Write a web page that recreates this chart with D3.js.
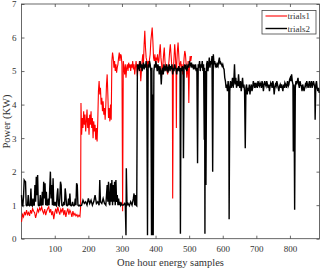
<!DOCTYPE html>
<html><head><meta charset="utf-8">
<script src="https://cdn.jsdelivr.net/npm/d3@7"></script>
<style>body{margin:0;background:#fff}svg{display:block}text{font-family:"Liberation Serif","Times New Roman",serif;fill:#333}</style>
</head><body><svg id="c" width="325" height="271"></svg>
<script>
const xTicks=[100,200,300,400,500,600,700,800];
const yTicks=[0,1,2,3,4,5,6,7];
const seriesNames=["trials1","trials2"];
const trials1Samples=[1,4,7,10,13,16,19,22,25,28,31,34,37,40,43,46,49,52,55,58,61,64,67,70,73,76,79,82,85,88,91,94,97,100,103,106,109,112,115,118,121,124,127,130,133,136,139,142,145,148,151,154,157,160,163,166,169,172,175,177,178,180,182,184,186,188,190,192,194,196,198,200,202,204,206,208,210,212,214,216,218,220,222,224,226,228,230,232,234,236,238,240,242,244,246,248,250,252,254,256,258,260,262,264,266,268,270,272,274,276,278,280,282,284,286,288,290,292,294,296,298,300,302,304,306,308,310,312,314,316,318,320,322,324,326,328,330,332,334,336,338,340,342,344,346,348,350,352,354,356,358,360,362,364,366,368,370,372,374,376,378,380,382,384,386,388,390,392,394,396,398,400,402,404,406,408,410,412,414,416,418,420,422,424,426,428,430,432,434,436,438,440,442,444,446,448,450,451,453,455,457,459,461,462,463,465,467,469,471,473,475,477,479,481,483,485,487,489,491,493,495,497,499,501,503,505,507];
const trials1Power=[0.50,0.72,0.65,0.80,0.70,0.85,0.72,0.78,0.68,0.85,0.75,0.90,0.82,0.78,0.62,0.75,0.88,0.80,0.92,0.85,0.95,0.82,0.75,0.88,0.70,0.82,0.90,0.95,0.78,0.88,0.70,0.82,0.58,0.78,0.90,0.75,0.95,0.82,0.72,0.88,0.80,0.92,0.70,0.85,0.65,0.80,0.90,0.72,0.85,0.78,0.65,0.82,0.70,0.75,0.68,0.72,0.65,0.70,0.66,0.95,4.05,3.1,3.6,3.3,3.8,3.4,3.7,3.2,3.5,3.85,3.3,3.6,3.1,3.7,3.4,3.8,3.3,3.6,3.0,3.5,3.2,3.4,2.95,3.3,2.9,3.5,4.4,4.7,4.3,4.5,4.0,4.2,3.8,4.1,3.7,3.9,3.55,4.0,4.6,4.9,4.3,3.6,3.9,3.5,4.0,3.55,5.3,5.55,5.4,5.1,5.3,5.0,5.2,4.95,5.1,5.2,5.4,5.55,5.3,5.5,5.45,5.2,0.82,5.3,5.1,4.9,5.2,4.8,5.1,5.2,5.0,5.25,5.1,5.2,5.0,5.2,5.1,5.3,5.05,5.2,4.9,5.1,5.3,5.1,4.85,5.2,5.05,5.3,5.1,4.7,5.0,5.3,5.5,5.2,5.8,6.2,5.7,5.4,5.3,5.1,5.3,5.2,5.35,5.5,5.9,6.1,6.3,5.9,5.4,5.3,5.5,5.2,5.4,5.35,5.5,5.25,5.3,5.6,5.8,5.4,5.2,4.9,5.2,5.5,5.7,5.3,5.1,5.2,5.0,4.9,5.1,5.3,5.6,5.8,5.5,5.2,4.9,1.2,5.0,5.4,5.8,5.5,5.0,3.3,5.2,5.6,5.85,5.5,5.1,5.2,5.3,5.05,5.2,4.9,5.1,5.4,5.6,5.5,5.2,4.8,5.0,5.3,4.05,5.2,5.45,5.3,5.45];
const trials2Samples=[1,3,5,7,9,11,13,15,17,19,21,23,25,27,29,31,33,35,37,39,41,43,45,47,49,51,53,55,57,59,61,63,65,67,69,71,73,75,77,79,81,83,85,87,89,91,93,95,97,99,101,103,105,107,109,111,113,115,117,119,121,123,125,127,129,131,133,135,137,139,141,143,145,147,149,151,153,155,157,159,161,163,165,167,169,171,173,175,180,184,188,192,196,200,204,208,212,216,220,224,228,232,234,236,240,244,248,252,256,258,260,262,264,266,268,270,272,274,276,278,280,282,284,286,288,290,292,294,296,298,300,304,308,310,312,313,315,318,322,326,330,334,336,338,340,342,344,346,348,350,352,354,356,358,360,362,364,366,368,370,372,374,376,378,380,382,384,386,388,389,391,392,393,395,397,399,401,403,405,407,409,411,413,415,417,419,421,423,425,427,429,431,433,435,437,439,441,443,445,447,449,451,453,455,457,459,461,463,465,467,469,471,473,474,476,478,480,482,483,485,487,489,491,493,495,497,499,501,503,505,507,509,511,513,515,517,519,521,523,525,527,529,531,533,535,537,539,541,543,545,546,547,548,550,552,554,556,558,560,562,564,566,568,570,572,574,576,578,580,582,584,586,588,590,592,594,596,598,600,602,604,606,608,610,612,614,616,618,619,621,623,625,627,629,631,633,635,637,639,641,643,645,647,649,651,653,655,657,659,661,663,665,667,669,671,673,675,677,679,681,683,685,687,689,691,693,695,697,699,701,703,705,707,709,711,713,715,717,719,721,723,725,727,729,731,733,735,737,739,741,743,745,747,749,751,753,755,757,759,761,763,765,767,769,771,773,775,777,779,781,783,785,787,789,791,793,795,797,799,801,803,805,807,809,810,812,814,816,818,820,822,824,826,828,830,832,834,836,838,840,842,844,846,848,850,852,854,856,858,860,862,864,866,868,870,872,874,875,877,879,881,883,885,887];
const trials2Power=[1.3,1.0,0.98,1.25,1.75,1.72,1.7,1.0,0.98,1.0,1.3,1.0,0.98,1.0,1.5,1.0,0.98,1.2,1.0,1.0,1.6,1.1,1.85,1.3,1.9,1.0,0.98,1.0,1.3,1.0,1.0,1.4,1.0,1.7,1.2,1.65,1.0,1.4,1.0,1.0,1.2,1.0,1.5,2.0,1.2,1.6,1.0,1.8,1.0,1.0,1.1,1.0,0.98,1.3,1.5,1.0,0.98,1.2,1.7,1.6,1.0,0.98,1.0,1.1,1.0,1.5,1.3,1.0,0.98,1.0,1.2,1.0,1.35,1.0,0.98,1.0,1.1,1.0,0.98,1.0,1.2,1.0,1.65,1.6,1.0,0.98,1.0,0.98,1.0,1.15,1.05,1.1,1.0,1.2,1.05,1.15,1.0,1.1,1.3,1.05,1.1,1.0,1.75,1.1,1.05,1.2,1.05,1.0,1.6,1.1,1.7,1.05,1.0,1.65,1.1,1.75,1.0,1.6,1.1,1.7,1.0,1.75,1.1,1.3,1.0,1.2,1.0,1.1,1.0,1.05,1.0,1.0,1.05,0.98,0.1,2.1,1.0,1.05,0.98,1.1,1.0,1.2,1.35,1.0,1.3,1.0,0.98,5.2,5.1,5.15,5.0,5.3,5.1,5.2,5.0,5.15,5.25,5.05,5.2,5.1,5.3,5.0,0.1,5.2,5.1,5.3,5.2,5.0,0.1,5.1,0.1,4.3,0.1,5.0,5.2,5.1,5.3,5.15,5.0,5.2,5.1,4.9,5.15,5.0,4.6,5.0,5.1,4.9,5.2,5.05,5.1,5.0,5.2,5.1,4.95,5.1,5.2,5.0,5.15,5.05,5.2,4.9,5.1,5.0,5.2,5.1,5.05,4.9,5.1,5.0,5.15,5.05,5.1,0.15,5.1,5.0,5.15,5.05,2.4,5.1,5.2,5.1,5.15,5.0,5.1,5.2,5.1,5.3,5.2,5.15,5.25,5.1,5.2,5.05,5.15,5.1,5.2,5.0,5.1,2.25,5.2,5.1,5.3,5.0,5.2,5.1,5.3,5.0,5.2,2.95,5.1,0.15,5.0,1.6,5.2,5.3,5.0,5.2,5.4,5.1,5.3,5.2,5.45,2.0,5.5,5.2,5.3,5.15,5.2,5.1,5.2,5.15,5.3,5.4,5.2,5.25,5.2,5.15,5.2,5.1,5.05,4.8,4.7,4.5,4.6,4.4,4.7,4.5,0.58,4.4,4.7,4.5,4.6,4.8,4.5,4.7,5.2,4.6,4.8,4.5,4.7,4.55,4.9,4.6,4.5,4.7,4.4,4.6,4.8,4.5,4.6,4.4,2.7,4.5,4.6,4.3,4.5,4.4,4.6,4.3,4.5,4.6,4.4,4.5,4.7,4.6,4.5,4.65,4.55,4.6,4.5,4.7,4.6,4.55,4.65,4.6,4.5,4.7,4.6,4.4,4.6,4.7,4.6,4.55,4.7,4.6,4.5,4.6,4.4,4.55,4.65,4.6,4.5,4.7,4.6,4.3,4.5,4.6,4.55,4.7,4.6,4.5,4.4,4.55,4.6,4.5,4.6,4.5,4.4,4.6,4.5,4.65,4.6,4.5,4.6,4.7,4.55,4.6,4.75,4.8,4.7,4.9,4.7,4.6,2.6,4.6,0.86,4.5,4.7,4.6,4.7,4.8,4.6,4.5,4.7,4.6,4.55,4.4,4.6,4.5,4.4,4.5,4.6,4.55,4.7,4.6,4.5,4.6,4.7,4.5,4.6,4.7,4.5,4.6,4.7,4.6,4.5,3.55,4.6,4.7,4.5,4.4,4.5,4.35];

const svg=d3.select("#c");
const m={l:21.5,r:319.5,t:4,b:238.7};
const x=d3.scaleLinear().domain([1,888]).range([m.l,m.r]);
const y=d3.scaleLinear().domain([0,7]).range([m.b,m.t]);
const axisColor="#444";
const g=svg.append("g");
// box
g.append("rect").attr("x",m.l).attr("y",m.t).attr("width",m.r-m.l).attr("height",m.b-m.t).attr("fill","none").attr("stroke",axisColor).attr("stroke-width",0.8);
// ticks
const ax=g.append("g").attr("transform",`translate(0,${m.b})`).call(d3.axisBottom(x).tickValues(xTicks).tickFormat(d3.format("d")).tickSize(-3).tickPadding(7));
const axT=g.append("g").attr("transform",`translate(0,${m.t})`).call(d3.axisTop(x).tickValues(xTicks).tickSize(-3).tickFormat(""));
const ay=g.append("g").attr("transform",`translate(${m.l},0)`).call(d3.axisLeft(y).tickValues(yTicks).tickFormat(d3.format("d")).tickSize(-3).tickPadding(5));
const ayR=g.append("g").attr("transform",`translate(${m.r},0)`).call(d3.axisRight(y).tickValues(yTicks).tickSize(-3).tickFormat(""));
[ax,axT,ay,ayR].forEach(a=>{a.select(".domain").remove();a.selectAll(".tick line").attr("stroke",axisColor).attr("stroke-width",0.8);a.selectAll("text").attr("font-family","Liberation Serif").attr("font-size",9).attr("fill","#333");});
// lines
const data1=trials1Samples.map((s,i)=>[s,trials1Power[i]]);
const data2=trials2Samples.map((s,i)=>[s,trials2Power[i]]);
const line=d3.line().x(d=>x(d[0])).y(d=>y(d[1]));
g.append("path").datum(data1).attr("d",line).attr("fill","none").attr("stroke","#ff0000").attr("stroke-width",1.1);
g.append("path").datum(data2).attr("d",line).attr("fill","none").attr("stroke","#000").attr("stroke-width",1.4);
// labels
svg.append("text").attr("x",170.5).attr("y",265.5).attr("text-anchor","middle").attr("font-size",10.5).text("One hour energy samples");
svg.append("text").attr("transform","translate(9.5,121.5) rotate(-90)").attr("text-anchor","middle").attr("font-size",10.5).text("Power (KW)");
// legend
const lg=svg.append("g");
lg.append("rect").attr("x",262).attr("y",10.5).attr("width",54).attr("height",23.5).attr("fill","#fff").attr("stroke",axisColor).attr("stroke-width",0.8);
const colors=["#ff0000","#000"];
seriesNames.forEach((n,i)=>{
  const yy=16+i*12.5;
  lg.append("line").attr("x1",265.5).attr("x2",287).attr("y1",yy).attr("y2",yy).attr("stroke",colors[i]).attr("stroke-width",i?1.4:1.1);
  lg.append("text").attr("x",287.5).attr("y",yy+3).attr("font-size",9).text(n);
});
</script></body></html>
